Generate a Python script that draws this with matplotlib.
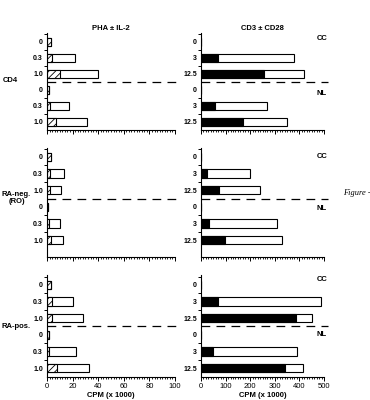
import matplotlib
matplotlib.use('Agg')
import matplotlib.pyplot as plt
from matplotlib.ticker import MultipleLocator, FixedLocator

plt.rcParams['font.family'] = ['Liberation Sans', 'DejaVu Sans']
plt.rcParams['hatch.linewidth'] = 0.6

pha_doses = ['0', '0.3', '1.0', '0', '0.3', '1.0']
cd3_doses = ['0', '3', '12.5', '0', '3', '12.5']
subsets = ['CD4', 'RA-neg.\n(RO)', 'RA-pos.']

# PHA alone (hatched) and PHA + IL-2 (open), CPM x 1000
pha_cd4 = [3, 4, 10, 1.5, 2, 7]
pha_il2_cd4 = [3, 22, 40, 1.5, 17, 31]
pha_raneg = [3, 2, 2, 0.5, 1.5, 3]
pha_il2_raneg = [3, 13.5, 11, 0.5, 10.5, 12.7]
pha_rapos = [3.5, 4, 4, 1.5, 1.5, 7.5]
pha_il2_rapos = [3.5, 20.5, 28, 1.5, 22.7, 32.5]

# CD3 alone (black) and CD3 + CD28 (open), CPM x 1000
cd3_cd4 = [1, 68, 256, 1, 57, 172]
cd3_cd28_cd4 = [1, 380, 417, 1, 267, 348]
cd3_raneg = [1, 23, 74, 1, 31, 99]
cd3_cd28_raneg = [1, 199, 240, 1, 310, 328]
cd3_rapos = [1, 71, 386, 1, 50, 343]
cd3_cd28_rapos = [1, 488, 451, 1, 389, 416]

W, H = 370, 400
fig = plt.figure(figsize=(W / 100, H / 100), dpi=100)

def px_axes(x0, x1, y0, y1):
    return fig.add_axes([x0 / W, 1 - y1 / H, (x1 - x0) / W, (y1 - y0) / H])

rows = [(33, 130, (5.5, -0.56)), (148, 257, (6.0, -0.54)), (275, 377, (5.54, -0.6))]
pha_data = [(pha_cd4, pha_il2_cd4), (pha_raneg, pha_il2_raneg), (pha_rapos, pha_il2_rapos)]
cd3_data = [(cd3_cd4, cd3_cd28_cd4), (cd3_raneg, cd3_cd28_raneg), (cd3_rapos, cd3_cd28_rapos)]
label_xy = [(3, 81), (2, 198), (2, 326)]
cc_nl_y = [(-0.2, 3.25), (0.0, 3.1), (-0.35, 3.0)]
ypos = [0, 1, 2, 3, 4, 5]

def style(ax, xmax, major, minor, labels, show_x):
    for s in ['top', 'right']:
        ax.spines[s].set_visible(False)
    for s in ['left', 'bottom']:
        ax.spines[s].set_linewidth(0.8)
    ax.set_xlim(0, xmax)
    ax.xaxis.set_major_locator(MultipleLocator(major))
    ax.xaxis.set_minor_locator(MultipleLocator(minor))
    ax.set_yticks(ypos)
    ax.set_yticklabels(labels, fontsize=5, fontweight='bold')
    ax.yaxis.set_minor_locator(FixedLocator([-0.5, 0.5, 1.5, 3.5, 4.5]))
    ax.tick_params(axis='y', which='major', length=0, pad=3)
    ax.tick_params(axis='y', which='minor', length=2.5, width=0.7)
    ax.tick_params(axis='x', which='major', length=3, width=0.7, labelsize=5.5, pad=1)
    ax.tick_params(axis='x', which='minor', length=1.5, width=0.6)
    if not show_x:
        ax.set_xticklabels([])
    ax.axhline(2.5, xmin=0, xmax=1.03, color='black', lw=0.9,
               linestyle=(0, (7, 5)), clip_on=False)

for i, (top, bot, ylim) in enumerate(rows):
    last = i == 2
    # PHA panel
    ax = px_axes(47, 175, top, bot)
    alone, total = pha_data[i]
    ax.barh(ypos, total, height=0.5, color='white', edgecolor='black', lw=0.8)
    ax.barh(ypos, alone, height=0.5, color='white', edgecolor='black', lw=0.8, hatch='/////')
    ax.set_ylim(*ylim)
    style(ax, 100, 20, 2, pha_doses, last)
    if i == 0:
        ax.set_title('PHA \u00b1 IL-2', fontsize=5.5, fontweight='bold', pad=2)
    if last:
        ax.set_xlabel('CPM (x 1000)', fontsize=5.5, fontweight='bold', labelpad=2)

    # CD3 panel
    ax = px_axes(201, 324, top, bot)
    alone, total = cd3_data[i]
    ax.barh(ypos, total, height=0.5, color='white', edgecolor='black', lw=0.8)
    ax.barh(ypos, alone, height=0.5, color='black', edgecolor='black', lw=0.8)
    ax.set_ylim(*ylim)
    style(ax, 500, 100, 10, cd3_doses, last)
    if i == 0:
        ax.set_title('CD3 \u00b1 CD28', fontsize=5.5, fontweight='bold', pad=2)
    if last:
        ax.set_xlabel('CPM (x 1000)', fontsize=5.5, fontweight='bold', labelpad=2)
    ax.text(470, cc_nl_y[i][0], 'CC', fontsize=5.5, fontweight='bold', va='center')
    ax.text(470, cc_nl_y[i][1], 'NL', fontsize=5.5, fontweight='bold', va='center')

    fig.text(label_xy[i][0] / W, 1 - label_xy[i][1] / H, subsets[i], fontsize=5.5,
             fontweight='bold', ha='left', va='center', linespacing=1.0,
             multialignment='center')

fig.text(343 / W, 1 - 193 / H, 'Figure -', fontsize=6, style='italic',
         family='Liberation Serif', va='center')

fig.savefig('out.png', dpi=100)
